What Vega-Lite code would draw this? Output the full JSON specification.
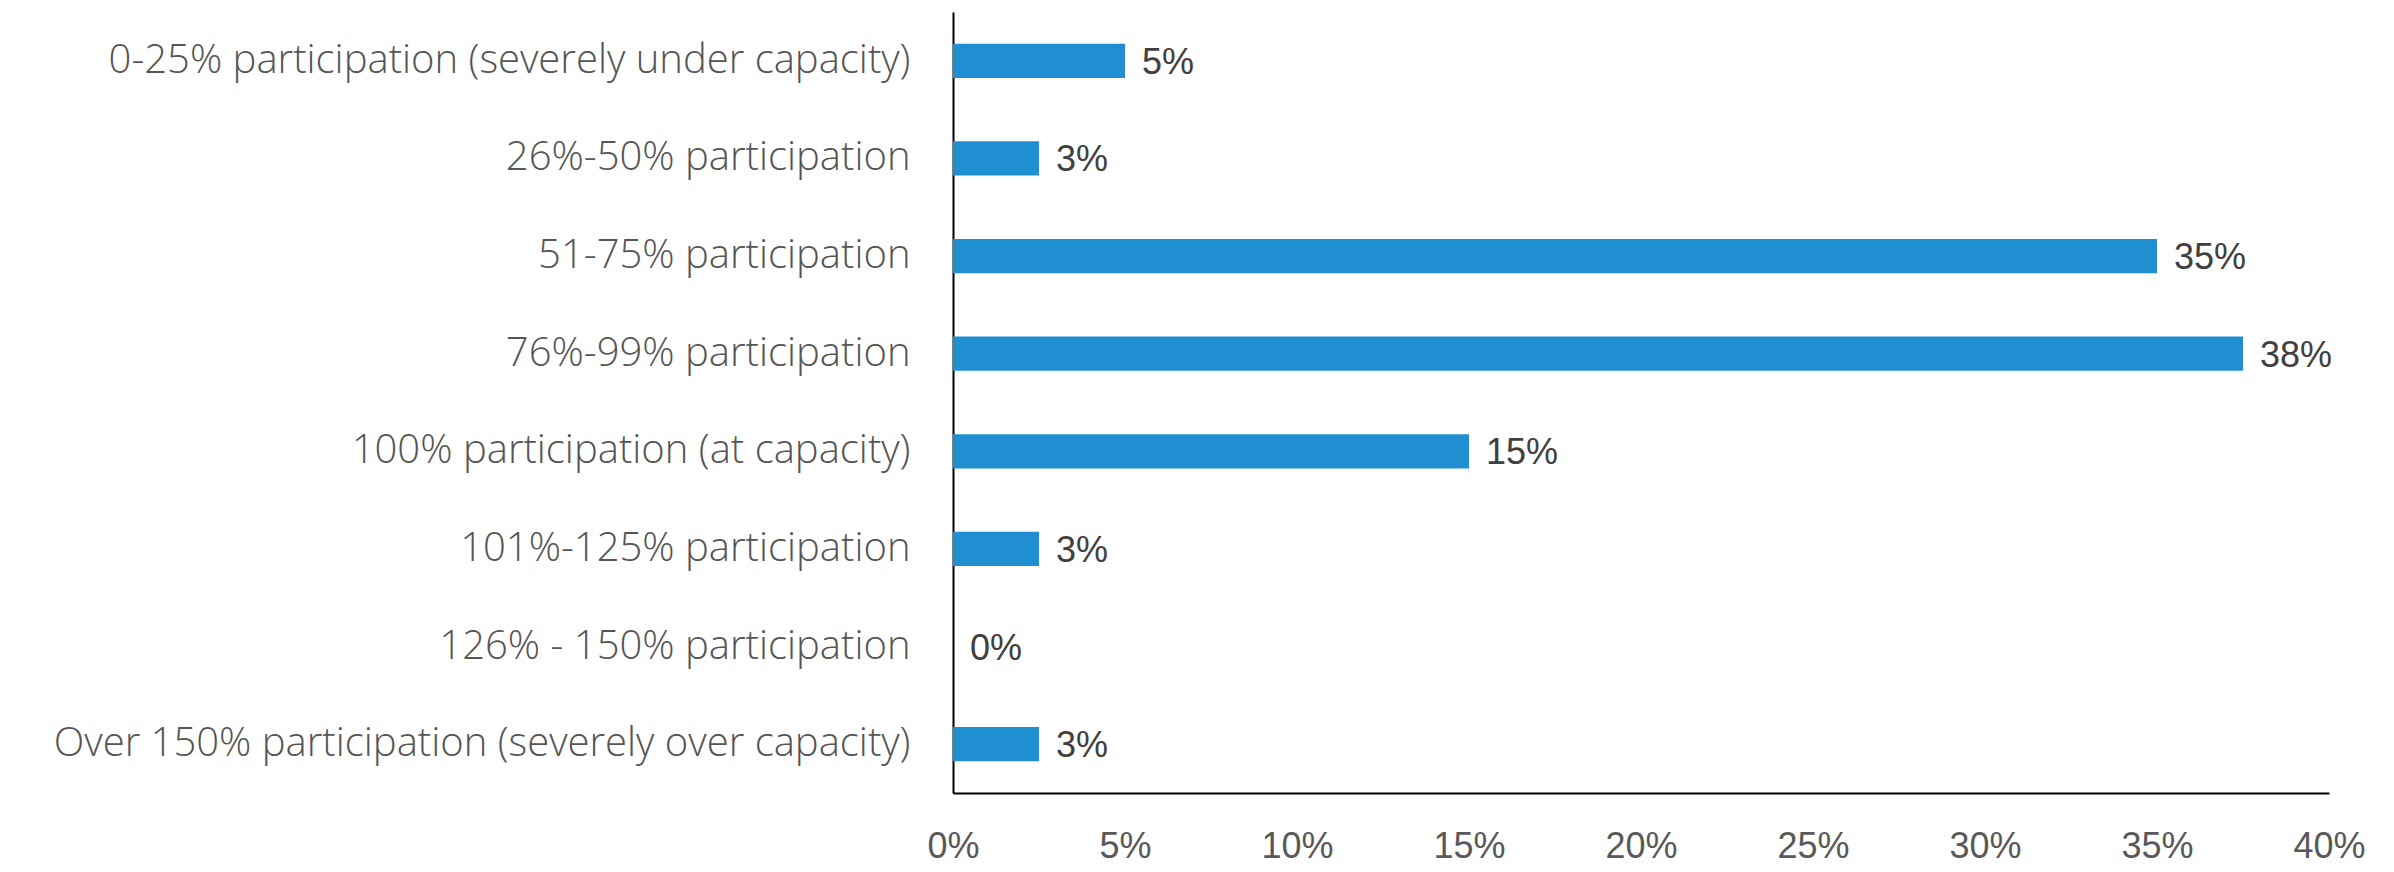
{
  "$schema": "https://vega.github.io/schema/vega-lite/v6.json",
  "autosize": {"type": "none"},
  "width": 1376,
  "height": 781,
  "padding": {"left": 953, "top": 12, "right": 65, "bottom": 79},
  "background": "white",
  "config": {"view": {"stroke": null}},
  "data": {"values": [
    {"category": "0-25% participation (severely under capacity)", "share": 0.05},
    {"category": "26%-50% participation", "share": 0.025},
    {"category": "51-75% participation", "share": 0.35},
    {"category": "76%-99% participation", "share": 0.375},
    {"category": "100% participation (at capacity)", "share": 0.15},
    {"category": "101%-125% participation", "share": 0.025},
    {"category": "126% - 150% participation", "share": 0},
    {"category": "Over 150% participation (severely over capacity)", "share": 0.025}
  ]},
  "encoding": {
    "y": {"field": "category", "type": "nominal", "sort": null, "title": null,
      "scale": {"paddingInner": 0.65, "paddingOuter": 0.325},
      "axis": {"ticks": false, "domainColor": "#000000", "domainWidth": 2, "labelFont": "Open Sans", "labelFontWeight": 300, "labelFontSize": 40, "labelColor": "#555555", "labelPadding": 43, "labelLimit": 1000, "grid": false}},
    "x": {"field": "share", "type": "quantitative", "title": null,
      "scale": {"domain": [0, 0.4]},
      "axis": {"format": ".0%", "values": [0, 0.05, 0.1, 0.15, 0.2, 0.25, 0.3, 0.35, 0.4], "labelOverlap": false, "ticks": false, "grid": false, "domainColor": "#000000", "domainWidth": 2, "labelFont": "Liberation Sans", "labelFontSize": 36, "labelColor": "#595959", "labelPadding": 36, "labelFlush": false}}
  },
  "layer": [
    {"mark": {"type": "bar", "color": "#1f8fd2"}},
    {"mark": {"type": "text", "align": "left", "dx": 17, "dy": 2, "font": "Liberation Sans", "fontSize": 36, "color": "#404040"},
     "encoding": {"text": {"field": "share", "type": "quantitative", "format": ".0%"}}}
  ]
}
